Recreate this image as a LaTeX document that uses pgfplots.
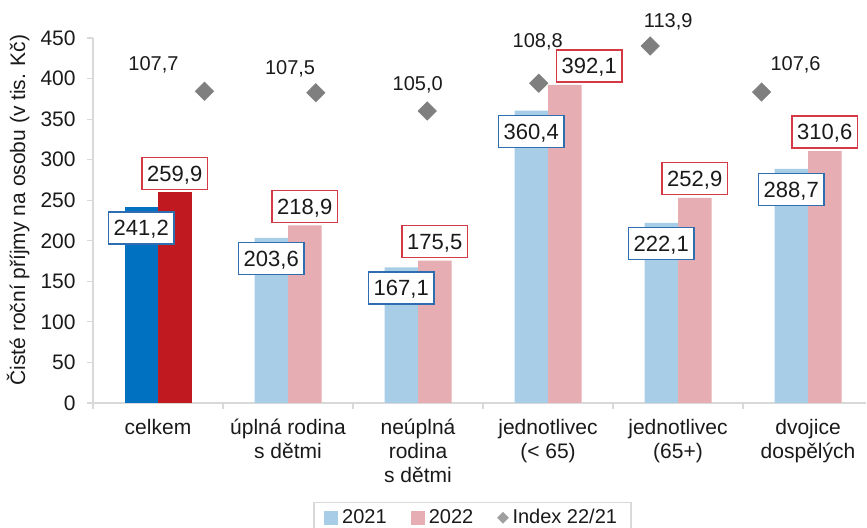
\documentclass[border=0pt]{standalone}
\usepackage{fontspec}
\setmainfont{Liberation Sans}
\usepackage{pgfplots}
\pgfplotsset{compat=1.18}
\usepackage{pgfplotstable}

\definecolor{lblue}{HTML}{A7CDE7}
\definecolor{lpink}{HTML}{E6AEB2}
\definecolor{dblue}{HTML}{0070C0}
\definecolor{dred}{HTML}{C0191F}
\definecolor{dgray}{HTML}{7F7F7F}
\definecolor{bblue}{HTML}{2E6DAF}
\definecolor{bred}{HTML}{D43A45}
\definecolor{axgray}{HTML}{D9D9D9}
\definecolor{txt}{HTML}{1A1A1A}

\pgfplotstableread{
x y21 y22
0 241.2 259.9
}\totaldata
\pgfplotstableread{
x y21 y22
1 203.6 218.9
2 167.1 175.5
3 360.4 392.1
4 222.1 252.9
5 288.7 310.6
}\groupdata
\pgfplotstableread{
x y21 y22 s22
0 241.2 259.9 0
1 203.6 218.9 0
2 167.1 175.5 0
3 360.4 392.1 12.25
4 222.1 252.9 0
5 288.7 310.6 0
}\alldata
\pgfplotstableread{
i idx dx dy
0 107.7 -25.5 13.0
1 107.5 -12.9 12.2
2 105.0 -4.8 13.0
3 108.8 -0.5 20.8
4 113.9 9.0 12.2
5 107.6 17.0 13.4
}\idxdata

\newcommand{\numfmt}[1]{\pgfmathprintnumber[use comma,fixed,fixed zerofill,precision=1,assume math mode=true]{#1}}

\begin{document}
\begin{tikzpicture}
\path[use as bounding box] (0,0) rectangle (433.5bp,264bp);
\begin{axis}[
  at={(46.5bp,62.5bp)}, anchor=south west, scale only axis,
  width=386.5bp, height=182.5bp,
  xmin=-0.5, xmax=5.446, ymin=0, ymax=450,
  font=\fontsize{10.5bp}{12bp}\selectfont,
  /pgf/number format/assume math mode=true,
  ytick={0,50,...,450},
  xtick={0,...,5},
  xticklabels={celkem,{úplná rodina\\s dětmi},{neúplná\\rodina\\s dětmi},{jednotlivec\\(< 65)},{jednotlivec\\(65+)},{dvojice\\dospělých}},
  minor xtick={-0.5,0.5,1.5,2.5,3.5,4.5},
  axis x line*=bottom, axis y line*=left,
  axis line style={-, draw=axgray, line width=0.6bp},
  tick align=outside, major tick length=3bp, minor tick length=3bp,
  major x tick style={draw=none},
  minor x tick style={draw=axgray, line width=0.6bp},
  ytick style={draw=axgray, line width=0.6bp},
  xticklabel style={align=center, anchor=north, inner sep=0pt, yshift=-5bp, text=txt},
  yticklabel style={anchor=east, inner sep=0pt, xshift=-5.5bp, text=txt},
  ylabel={Čisté roční příjmy na osobu (v tis. Kč)},
  ylabel style={at={(axis description cs:-0.097,0.529)}, anchor=center, text=txt},
  bar width=16.75bp,
  legend columns=3,
  legend style={at={(axis description cs:0.491,-0.2712)}, anchor=north, draw=axgray, line width=0.6bp,
    font=\fontsize{10bp}{12bp}\selectfont, text=txt, inner xsep=5bp, inner ysep=1.2bp,
    /tikz/every even column/.append style={column sep=10bp}},
  legend cell align=left,
]
\addplot[ybar, bar shift=-8.375bp, fill=lblue, draw=none, forget plot] table[x=x,y=y21]{\groupdata};
\addplot[ybar, bar shift=-8.375bp, fill=dblue, draw=none, forget plot] table[x=x,y=y21]{\totaldata};
\addplot[ybar, bar shift=8.375bp, fill=lpink, draw=none, forget plot] table[x=x,y=y22]{\groupdata};
\addplot[ybar, bar shift=8.375bp, fill=dred, draw=none, forget plot] table[x=x,y=y22]{\totaldata};
% value labels
\addplot[draw=none, mark=none, forget plot,
  nodes near coords={\numfmt{\pgfplotspointmeta}},
  every node near coord/.append style={anchor=north, xshift=-8.375bp, yshift=-2bp,
    draw=bblue, line width=0.6bp, fill=white, text=txt, inner xsep=2.6bp, inner ysep=0pt,
    minimum height=16bp, text height=7.9bp, text depth=0pt, font=\fontsize{11bp}{13bp}\selectfont}]
  table[x=x,y=y21]{\alldata};
\addplot[draw=none, mark=none, forget plot,
  visualization depends on={\thisrow{s22} \as \sx},
  nodes near coords={\numfmt{\pgfplotspointmeta}},
  every node near coord/.append style={anchor=south, xshift={8.375bp+\sx bp}, yshift=1.2bp,
    draw=bred, line width=0.6bp, fill=white, text=txt, inner xsep=2.6bp, inner ysep=0pt,
    minimum height=16bp, text height=7.9bp, text depth=0pt, font=\fontsize{11bp}{13bp}\selectfont}]
  table[x=x,y=y22]{\alldata};
\addlegendimage{legend image code/.code={\fill[lblue] (0bp,-3.25bp) rectangle (6.5bp,3.25bp);}}
\addlegendentry{2021}
\addlegendimage{legend image code/.code={\fill[lpink] (0bp,-3.25bp) rectangle (6.5bp,3.25bp);}}
\addlegendentry{2022}
\addlegendimage{legend image code/.code={\fill[dgray!75] (3.25bp,-2.5bp) -- (5.75bp,0bp) -- (3.25bp,2.5bp) -- (0.75bp,0bp) -- cycle;}}
\addlegendentry{Index 22/21}
\end{axis}
\begin{axis}[
  at={(46.5bp,62.5bp)}, anchor=south west, scale only axis,
  width=386.5bp, height=182.5bp,
  xmin=-1, xmax=5.937, ymin=65, ymax=115,
  hide axis, clip=false,
]
\addplot[only marks, mark=square*, mark size=3.2bp, mark options={rotate=45}, color=dgray,
  visualization depends on={\thisrow{dx} \as \dx},
  visualization depends on={\thisrow{dy} \as \dy},
  nodes near coords={\numfmt{\pgfplotspointmeta}},
  every node near coord/.append style={anchor=center, xshift=\dx bp, yshift=\dy bp,
    text=txt, font=\fontsize{10bp}{12bp}\selectfont}]
  table[x=i,y=idx]{\idxdata};
\end{axis}
\end{tikzpicture}
\end{document}
